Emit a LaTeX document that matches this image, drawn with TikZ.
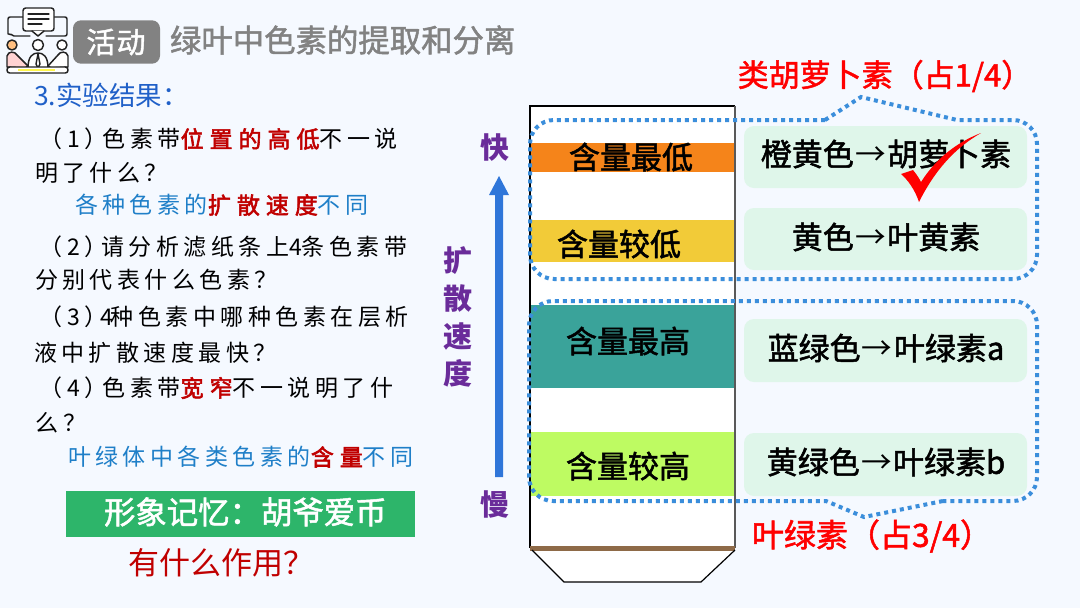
\documentclass[tikz,border=0pt]{standalone}
\usepackage{graphicx}
\usepackage{fontspec}
\setmainfont{Noto Sans CJK SC}
\newfontfamily\regf{Noto Sans CJK SC}
\newfontfamily\medf[FakeBold=1.6]{Noto Sans CJK SC}
\newfontfamily\leftf[LetterSpace=19.5]{Noto Sans CJK SC}
\newfontfamily\leftb[LetterSpace=26,FakeBold=2.4]{Noto Sans CJK SC}
\newfontfamily\wide[LetterSpace=6,FakeBold=1.6]{Noto Sans CJK SC}
\newcommand\pxf[1]{\fontsize{\the\dimexpr #1pt*3/4\relax}{\the\dimexpr #1pt\relax}\selectfont}
\newcommand\aw{\makebox[25pt][c]{\regf\raisebox{0.02em}{\resizebox{23pt}{!}{→}}}}
\definecolor{bgc}{HTML}{F5F9FF}
\definecolor{dotc}{HTML}{3B8EDB}
\definecolor{boxc}{HTML}{DFF6EA}
\definecolor{darkred}{HTML}{C00000}
\definecolor{ansblue}{HTML}{1F7FC8}
\definecolor{purp}{HTML}{6A2C9A}
\definecolor{titleg}{HTML}{828282}
\definecolor{iconk}{HTML}{222222}
\definecolor{headblue}{RGB}{32,96,200}
\definecolor{memgreen}{RGB}{45,181,106}
\definecolor{arrowblue}{RGB}{47,118,217}
\definecolor{bandorange}{RGB}{245,132,26}
\definecolor{bandyellow}{RGB}{242,203,56}
\definecolor{bandteal}{RGB}{58,163,154}
\definecolor{bandlime}{RGB}{190,251,98}
\definecolor{bandbrown}{RGB}{142,106,72}
\tikzset{
 txt/.style={inner sep=0pt,outer sep=0pt},
 lefttxt/.style={txt,anchor=west,font=\leftf\pxf{23},text=black},
 colorbox/.style={fill=boxc,draw=none,rounded corners=7.5pt},
 colortxt/.style={txt,font=\medf\pxf{31},text=black},
 bandtxt/.style={txt,font=\medf\pxf{31},text=black},
 callout/.style={draw=dotc,line width=3pt,dash pattern=on 3pt off 3pt},
 speed/.style={txt,font=\bfseries\pxf{29},text=purp},
 redtxt/.style={txt,font=\medf\pxf{31},text=red},
 ico/.style={draw=iconk,line width=1.1pt,line join=round,line cap=round}
}
\newcommand\hl[1]{\textcolor{darkred}{\leftb #1}}
\begin{document}
\begin{tikzpicture}[x=0.75pt,y=-0.75pt]
\useasboundingbox (0,0) rectangle (1080,608);
\fill[bgc] (0,0) rectangle (1080,608);
% icon
\draw[ico,rounded corners=1.5pt,fill=bgc] (8,34) -- (8,17) -- (24,17) (52,17) -- (67,17) -- (67,36) -- (52,36) -- (46,36) (30,36) -- (12,36) -- (10,33) -- (8,34);
\draw[ico,rounded corners=2pt,fill=white] (23,8) rectangle (54,31);
\draw[ico,fill=white] (32,31) -- (38,36) -- (44,31);
\draw[ico,line width=.9pt] (28,14) -- (49,14) (28,19) -- (49,19) (28,24) -- (42,24);
\draw[ico,fill=white] (38,45) circle (5.5);
\draw[ico,fill=white] (28,68) .. controls (28,56) and (33,53) .. (38,53) .. controls (43,53) and (48,56) .. (48,68);
\draw[ico,fill=white] (38,54) -- (36,64) -- (38,68) -- (40,64) -- cycle;
\draw[ico,fill=orange!50] (12,45) circle (5);
\draw[ico,fill=pink!70] (7,67) -- (7,56) .. controls (8,51) and (15,51) .. (17,55) -- (28,66) -- (25,68) -- cycle;
\draw[ico,fill=white] (62,45) circle (5);
\draw[ico,fill=white] (68,67) -- (68,56) .. controls (67,51) and (60,51) .. (58,55) -- (48,66) -- (51,68) -- cycle;
\draw[ico,rounded corners=2pt,fill=white] (7,67) rectangle (68,73);
\fill[yellow!70] (18,68.5) rectangle (55,71);
% title
\node[fill=titleg,rounded corners=6pt,minimum width=65.25pt,minimum height=32.5pt,txt] (tag) at (116.5,42) {};
\node[txt,font=\wide\pxf{29},text=white] (tagt) at (116,42) {活\hspace{.04em}动};
\node[txt,anchor=west,font=\medf\pxf{31.4},text=titleg] (title) at (170,40) {绿叶中色素的提取和分离};
\node[txt,anchor=west,font=\pxf{26.5},text=headblue] (head) at (34,95) {3.实验结果：};
% left text
\node[lefttxt] (l1) at (50,139) {\makebox[53pt][l]{\hspace{-.45em}（1）}\hspace{-13.5pt}色素带\hl{位置的高低}不一说};
\node[lefttxt] (l2) at (35,173) {明了什么？};
\node[lefttxt,text=ansblue] (l3) at (75,205) {各种色素的\hl{扩散速度}不同};
\node[lefttxt] (l4) at (50,247) {\makebox[53pt][l]{\hspace{-.45em}（2）}\hspace{-14.5pt}请分析滤纸条上\hspace{0pt}4\hspace{0pt}条色素带};
\node[lefttxt] (l5) at (35,280) {分别代表什么色素？};
\node[lefttxt] (l6) at (50,317) {\makebox[53pt][l]{\hspace{-.45em}（3）}\hspace{-15.5pt}4\hspace{-1.5pt}种色素中哪种色素在层析};
\node[lefttxt] (l7) at (34,353) {液中扩散速度最快？};
\node[lefttxt] (l8) at (50,388) {\makebox[53pt][l]{\hspace{-.45em}（4）}\hspace{-13.5pt}色素带\hl{宽窄}不一说明了什};
\node[lefttxt] (l9) at (36,423) {么？};
\node[lefttxt,text=ansblue] (l10) at (68,457) {叶绿体中各类色素的\hl{含量}不同};
\fill[memgreen] (66,491) rectangle (415,537);
\node[txt,anchor=west,font=\medf\pxf{31.4},text=white] (mem) at (104,512) {形象记忆：胡爷爱币};
\node[txt,anchor=west,font=\pxf{31},text=darkred] (use) at (128,563) {有什么作用？};
% speed arrow
\fill[arrowblue] (495,477) -- (495,195) -- (489,195) -- (499,176) -- (509,195) -- (503,195) -- (503,477) -- cycle;
\node[speed] (fast) at (495,148) {快};
\node[speed] (slow) at (495,504) {慢};
\node[speed] (s1) at (458,261) {扩};
\node[speed] (s2) at (458,298) {散};
\node[speed] (s3) at (458,336) {速};
\node[speed] (s4) at (458,373) {度};
% paper
\fill[white] (530,106) rectangle (735,550);
\fill[white] (532,550) -- (564,582) -- (701,582) -- (735,550) -- cycle;
\fill[bandorange] (530,143) rectangle (735,172);
\fill[bandyellow] (530,220) rectangle (735,262);
\fill[bandteal] (530,305) rectangle (735,388);
\fill[bandlime] (530,432) rectangle (735,496);
\draw[black,line width=.9pt] (530,548) -- (530,106) -- (735,106);
\draw[black!65,line width=.9pt] (735,106) -- (735,548);
\fill[bandbrown] (530,546) rectangle (735,550.5);
\draw[black,line width=.9pt] (532,550) -- (564,582) -- (701,582) -- (735,550);
\node[bandtxt] (b1) at (631,157) {含量最低};
\node[bandtxt] (b2) at (619,244) {含量较低};
\node[bandtxt] (b3) at (628,341) {含量最高};
\node[bandtxt] (b4) at (628,466) {含量较高};
% colour boxes
\path[colorbox] (744,126) rectangle (1027,188);
\path[colorbox] (744,208) rectangle (1027,270);
\path[colorbox] (744,319) rectangle (1027,382);
\path[colorbox] (744,433) rectangle (1027,496);
\node[colortxt] (c1) at (886,154) {橙黄色\aw 胡萝卜素};
\node[colortxt] (c2) at (886,237) {黄色\aw 叶黄素};
\node[colortxt] (c3) at (886,348) {蓝绿色\aw 叶绿素a};
\node[colortxt] (c4) at (886,462) {黄绿色\aw 叶绿素b};
% callouts
\draw[callout] (825,120) -- (861,97) -- (957,120) [rounded corners=18pt] -- (1037,120) -- (1037,279) -- (530,279) -- (530,120) -- (825,120);
\draw[callout] (943,501) -- (864,517) -- (826,501) [rounded corners=18pt] -- (529,501) -- (529,301) -- (1037,301) -- (1037,501) -- (943,501);
\node[redtxt] (r1) at (885,76) {类胡萝卜素（占1/4）};
\node[redtxt,font=\medf\pxf{32}] (r2) at (872,536) {叶绿素（占3/4）};
% check
\fill[red] (981,133) .. controls (955,148) and (935,170) .. (919,202) .. controls (915,190) and (908,180) .. (901,174) -- (913,170) .. controls (917,175) and (919,178) .. (921,182) .. controls (935,160) and (955,143) .. (981,133) -- cycle;
\end{tikzpicture}
\end{document}
